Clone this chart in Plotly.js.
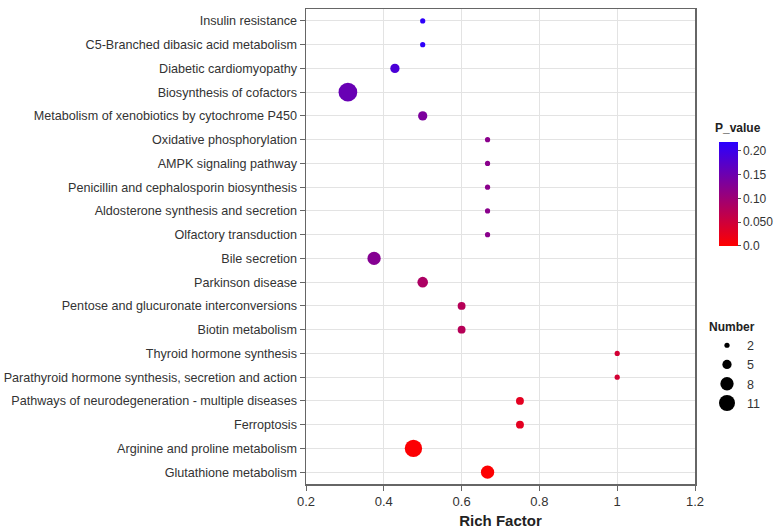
<!DOCTYPE html>
<html>
<head>
<meta charset="utf-8">
<script src="https://cdn.plot.ly/plotly-3.0.1.min.js"></script>
<style>html,body{margin:0;padding:0;background:#fff}#chart{width:779px;height:529px}</style>
</head>
<body>
<div id="chart"></div>
<script>
const pathways = [
  "Insulin resistance",
  "C5-Branched dibasic acid metabolism",
  "Diabetic cardiomyopathy",
  "Biosynthesis of cofactors",
  "Metabolism of xenobiotics by cytochrome P450",
  "Oxidative phosphorylation",
  "AMPK signaling pathway",
  "Penicillin and cephalosporin biosynthesis",
  "Aldosterone synthesis and secretion",
  "Olfactory transduction",
  "Bile secretion",
  "Parkinson disease",
  "Pentose and glucuronate interconversions",
  "Biotin metabolism",
  "Thyroid hormone synthesis",
  "Parathyroid hormone synthesis, secretion and action",
  "Pathways of neurodegeneration - multiple diseases",
  "Ferroptosis",
  "Arginine and proline metabolism",
  "Glutathione metabolism"
];
const richFactor = [0.5, 0.5, 0.4286, 0.3077, 0.5, 0.6667, 0.6667, 0.6667, 0.6667, 0.6667,
                    0.375, 0.5, 0.6, 0.6, 1.0, 1.0, 0.75, 0.75, 0.4762, 0.6667];
const numberGenes = [2, 2, 5, 12, 5, 2, 2, 2, 2, 2, 8, 6, 4, 4, 2, 2, 4, 4, 11, 8];
const pValue = [0.215, 0.215, 0.185, 0.155, 0.135, 0.12, 0.12, 0.12, 0.12, 0.12,
                0.125, 0.085, 0.075, 0.075, 0.045, 0.045, 0.028, 0.028, 0.003, 0.002];
const legendNumbers = [2, 5, 8, 11];
const xTickVals = [0.2, 0.4, 0.6, 0.8, 1, 1.2];
const xTickText = ["0.2", "0.4", "0.6", "0.8", "1", "1.2"];
const cbTickVals = [0, 0.05, 0.10, 0.15, 0.20];
const cbTickText = ["0.0", "0.050", "0.10", "0.15", "0.20"];

const sizeOf = n => 1.35 * n + 2.5;
const FONT = "Liberation Sans, Arial, sans-serif";

const traces = [{
  type: "scatter",
  mode: "markers",
  x: richFactor,
  y: pathways,
  showlegend: false,
  marker: {
    size: numberGenes.map(sizeOf),
    sizemode: "diameter",
    opacity: 1,
    color: pValue,
    cmin: 0,
    cmax: 0.219,
    colorscale: [[0, "#ff0000"], [1, "#2a00ff"]],
    line: {width: 0},
    colorbar: {
      xref: "container", yref: "container",
      x: 719 / 779, xanchor: "left",
      y: 1 - 158 / 529, yanchor: "top",
      thickness: 19, thicknessmode: "pixels",
      len: 104, lenmode: "pixels",
      outlinewidth: 0,
      tickvals: cbTickVals, ticktext: cbTickText,
      ticks: "outside", ticklen: 3, tickcolor: "#555",
      tickfont: {family: FONT, size: 12, color: "#333"},
      xpad: 0, ypad: 0
    }
  }
}];
legendNumbers.forEach(n => {
  traces.push({
    type: "scatter", mode: "markers",
    x: [null], y: [null],
    name: String(n),
    showlegend: true,
    marker: {size: sizeOf(n), color: "#000"}
  });
});

const layout = {
  width: 779, height: 529,
  margin: {l: 306, r: 84, t: 9, b: 45},
  paper_bgcolor: "#fff", plot_bgcolor: "#fff",
  font: {family: FONT, size: 12, color: "#333"},
  xaxis: {
    range: [0.2, 1.2],
    tickvals: xTickVals, ticktext: xTickText,
    showgrid: true, gridcolor: "#e3e3e3", gridwidth: 1,
    zeroline: false,
    showline: true, linecolor: "#666", linewidth: 1.5, mirror: true,
    ticks: "outside", ticklen: 5, tickcolor: "#666",
    tickfont: {family: FONT, size: 13, color: "#333"},
    title: {text: "<b>Rich Factor</b>", font: {family: FONT, size: 15, color: "#222"}, standoff: 8}
  },
  yaxis: {
    type: "category",
    categoryorder: "array", categoryarray: pathways,
    autorange: false, range: [19.5, -0.5],
    showgrid: true, gridcolor: "#e3e3e3", gridwidth: 1,
    zeroline: false,
    showline: true, linecolor: "#666", linewidth: 1.5, mirror: true,
    ticks: "outside", ticklen: 5, tickcolor: "#666",
    tickfont: {family: FONT, size: 12.6, color: "#333"}
  },
  legend: {
    xref: "container", yref: "container",
    x: 707 / 779, xanchor: "left",
    y: 1 - 315 / 529, yanchor: "top",
    itemsizing: "trace",
    itemwidth: 30,
    title: {text: "<b>Number</b>", font: {family: FONT, size: 12, color: "#222"}},
    font: {family: FONT, size: 12.5, color: "#333"},
    bgcolor: "rgba(0,0,0,0)",
    tracegroupgap: 0
  },
  annotations: [{
    xref: "paper", yref: "paper",
    x: 1 + (713 - 695) / 389, xanchor: "left",
    y: 1 - (128 - 9) / 475, yanchor: "middle",
    text: "<b>P_value</b>", showarrow: false,
    font: {family: FONT, size: 12, color: "#222"}
  }]
};

Plotly.newPlot("chart", traces, layout, {displayModeBar: false, staticPlot: true});
</script>
</body>
</html>
